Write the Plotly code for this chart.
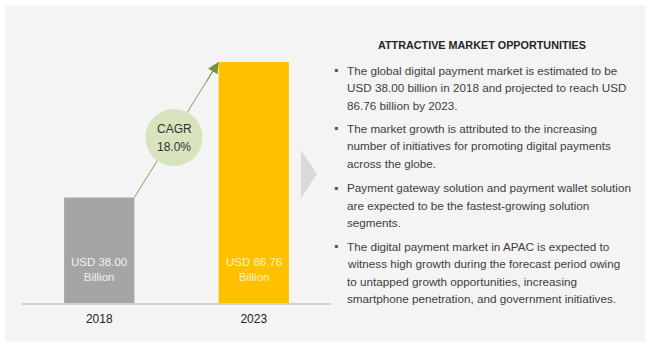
import plotly.graph_objects as go

# ---- data ----
years = ["2018", "2023"]
market_values = [38.00, 86.76]
bar_colors = ["#A5A5A5", "#FFC000"]
bar_label_colors = ["#F2F2F2", "#FFF2CC"]
bar_labels = ["USD 38.00<br>Billion", "USD 86.76<br>Billion"]
cagr_lines = ["CAGR", "18.0%"]
panel_title = "ATTRACTIVE MARKET OPPORTUNITIES"
bullets = [
    ["The global digital payment market is estimated to be",
     "USD 38.00 billion in 2018 and projected to reach USD",
     "86.76 billion by 2023."],
    ["The market growth is attributed to the increasing",
     "number of initiatives for promoting digital payments",
     "across the globe."],
    ["Payment gateway solution and payment wallet solution",
     "are expected to be the fastest-growing solution",
     "segments."],
    ["The digital payment market in APAC is expected to",
     "witness high growth during the forecast period owing",
     "to untapped growth opportunities, increasing",
     "smartphone penetration, and government initiatives."],
]

W, H = 650, 347
def px(x):
    return x / W
def py(y):
    return 1 - y / H

BASE_FONT = "Liberation Sans, Arial, sans-serif"

bar_width = 0.455
half = bar_width / 2
ymax = 107.27
xpos = list(range(len(years)))

fig = go.Figure()
fig.add_trace(go.Bar(
    x=xpos, y=market_values, width=bar_width,
    marker=dict(color=bar_colors, line=dict(width=0)),
    hoverinfo="skip",
))

shapes = []
# background panel
shapes.append(dict(type="rect", xref="paper", yref="paper",
                   x0=px(5), x1=px(645), y0=py(342), y1=py(5),
                   fillcolor="#F4F4F4", line=dict(width=0), layer="below"))
# chevron
shapes.append(dict(type="path", xref="paper", yref="paper",
                   path=f"M {px(301)} {py(150)} L {px(317)} {py(174)} L {px(301)} {py(198)} Z",
                   fillcolor="#D9D9D9", line=dict(width=0), layer="above"))
# growth line between bar corners
x0a, y0a = xpos[0] + half, market_values[0]
x1a, y1a = xpos[1] - half, market_values[1]
shapes.append(dict(type="line", xref="x", yref="y",
                   x0=x0a, y0=y0a, x1=x1a, y1=y1a,
                   line=dict(color="#8A9A5B", width=1), layer="above"))
# CAGR circle
shapes.append(dict(type="circle", xref="paper", yref="paper",
                   x0=px(145.5), x1=px(202.5), y0=py(166), y1=py(109),
                   fillcolor="#D7E4BD", line=dict(width=0), layer="above"))

annotations = []
# arrow head
annotations.append(dict(x=x1a, y=y1a, xref="x", yref="y",
                        ax=x0a + 0.85 * (x1a - x0a), ay=y0a + 0.85 * (y1a - y0a),
                        axref="x", ayref="y", text="", showarrow=True,
                        arrowhead=2, arrowsize=2.2, arrowwidth=1,
                        arrowcolor="#76923C"))
# bar labels
for xv, lab, col in zip(xpos, bar_labels, bar_label_colors):
    annotations.append(dict(x=xv, y=0, xref="x", yref="y", yanchor="bottom",
                            yshift=18, text=lab, showarrow=False,
                            font=dict(family=BASE_FONT, size=11.5, color=col)))
# CAGR text
for i, t in enumerate(cagr_lines):
    annotations.append(dict(x=px(174), y=py(129 + 18 * i), xref="paper", yref="paper",
                            text=t, showarrow=False, xanchor="center", yanchor="middle",
                            font=dict(family=BASE_FONT, size=12, color="#333333")))
# title
annotations.append(dict(x=px(482), y=py(45), xref="paper", yref="paper",
                        text=f"<b>{panel_title}</b>", showarrow=False,
                        xanchor="center", yanchor="middle",
                        font=dict(family=BASE_FONT, size=10.8, color="#262626")))
# bullets
starts = [70, 128, 187.5, 246]
step = 17.6
for start, lines in zip(starts, bullets):
    annotations.append(dict(x=px(336), y=py(start), xref="paper", yref="paper",
                            text="▪", showarrow=False, xanchor="center", yanchor="middle",
                            font=dict(family=BASE_FONT, size=12, color="#595959")))
    for j, ln in enumerate(lines):
        annotations.append(dict(x=px(345), y=py(start + step * j), xref="paper", yref="paper",
                                text=ln, showarrow=False, xanchor="left", yanchor="middle",
                                font=dict(family=BASE_FONT, size=11.7, color="#404040")))

fig.update_layout(
    width=W, height=H,
    margin=dict(l=0, r=0, t=0, b=0),
    paper_bgcolor="white", plot_bgcolor="rgba(0,0,0,0)",
    showlegend=False,
    shapes=shapes, annotations=annotations,
    xaxis=dict(domain=[px(22), px(331)], range=[-0.5, 1.5],
               tickmode="array", tickvals=xpos, ticktext=years,
               showline=True, linecolor="#D0D0D0", linewidth=2,
               showgrid=False, zeroline=False, ticks="", ticklabelstandoff=4,
               tickfont=dict(family=BASE_FONT, size=12, color="#222222"),
               fixedrange=True),
    yaxis=dict(domain=[py(303), py(5)], range=[0, ymax], visible=False,
               fixedrange=True),
)

fig.write_html("out.html")
